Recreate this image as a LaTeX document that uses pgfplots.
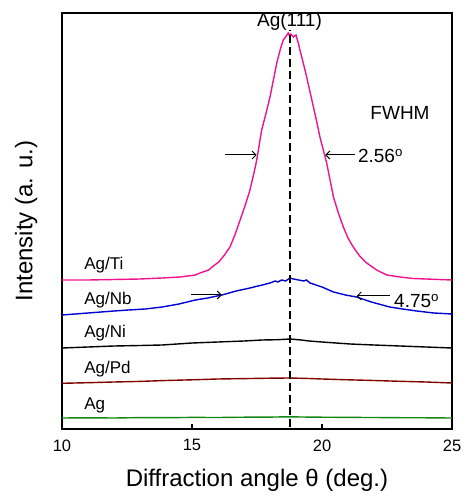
\documentclass[border=0pt]{standalone}
\usepackage{pgfplots}
\pgfplotsset{compat=1.18}
\usepackage{fontspec}
\setmainfont{Liberation Sans}
\usetikzlibrary{arrows.meta}

\definecolor{tipink}{RGB}{240,20,140}
\definecolor{nbblue}{RGB}{0,0,210}
\definecolor{pdred}{RGB}{128,0,0}
\definecolor{aggreen}{RGB}{20,135,20}

\begin{document}
\begin{tikzpicture}
\begin{axis}[
  width=390pt,height=416pt,scale only axis,
  xmin=10,xmax=25,ymin=0,ymax=416,
  xtick={10,15,20,25},ytick=\empty,
  xtick pos=bottom,tick align=inside,
  major tick length=5pt,
  tick style={black,line width=1.3pt},
  axis line style={line width=2pt},
  /pgf/number format/assume math mode=true,
  ticklabel style={font=\fontsize{16.5}{19}\selectfont},
  xticklabel style={yshift=-7pt},
  xlabel={Diffraction angle θ (deg.)},
  ylabel={Intensity (a. u.)},
  label style={font=\fontsize{24}{28}\selectfont},
  xlabel style={at={(axis description cs:0.5,-0.139)},anchor=base},
  ylabel style={at={(axis description cs:-0.054,0.5)},anchor=south},
  every axis plot/.append style={line width=1.4pt},
  clip=false,
]
% Ag
\addplot[aggreen,no marks] coordinates {
(10,11) (11,11.2) (12,11) (13,11.4) (14,11.3) (15,11.6) (16,11.5) (17,11.8)
(18,11.9) (18.7,12.2) (19.5,11.9) (20,11.8) (21,11.6) (22,11.5) (23,11.3)
(24,11.2) (25,11)};
% Ag/Pd
\addplot[pdred,no marks] coordinates {
(10,45.7) (11,46.3) (12,47) (13,47.6) (14,48.5) (15,49.2) (16,50) (17,50.4)
(18,50.8) (18.73,51) (19.5,50.5) (20,50) (21,49.2) (22,48.5) (23,47.7)
(24,47) (25,46)};
% Ag/Ni
\addplot[black,no marks] coordinates {
(10,81) (11,82) (12,83) (13,83.5) (13.85,84) (15,86) (16,87) (17,88)
(17.7,89) (18.3,89.3) (18.77,90) (19.2,89) (19.5,88) (20,87) (21.08,85)
(22,84) (23,83) (24,82) (25,81)};
% Ag/Nb
\addplot[nbblue,no marks] coordinates {
(10,114) (11,116) (12,118) (12.56,119) (13.2,120) (13.85,122) (14.5,125)
(15.13,129) (15.6,131) (16.15,134) (16.7,138) (17.23,141) (17.7,144)
(18,146) (18.2,148) (18.3,147) (18.45,149) (18.6,148) (18.77,151)
(18.9,150) (19.1,149) (19.3,148) (19.4,149) (19.54,146) (20,142)
(20.44,137) (20.9,134) (21.33,132) (21.9,127) (22.6,122) (23.1,120)
(23.64,118) (24.3,116) (25,115)};
% Ag/Ti
\addplot[tipink,no marks] coordinates {
(10,149) (11,149) (12,149.5) (13,150) (13.85,151) (14.54,152) (15.13,154)
(15.31,156) (15.64,159) (15.82,163) (16.03,167) (16.25,174) (16.46,182)
(16.65,194) (16.85,209) (17.05,224) (17.23,239) (17.4,258) (17.49,269)
(17.68,299) (17.85,316) (18,332) (18.13,349) (18.26,366) (18.4,380)
(18.51,389) (18.6,392) (18.7,396) (18.75,393) (18.8,395) (18.9,392)
(19,394) (19.03,391) (19.1,385) (19.15,379) (19.28,366) (19.41,352)
(19.54,337) (19.67,322) (19.8,307) (19.92,292) (20.05,279) (20.18,266)
(20.31,249) (20.44,232) (20.63,216) (20.82,202) (21,191) (21.2,182)
(21.45,173) (21.72,166) (22.1,159) (22.49,154) (23,152) (23.5,150.5)
(24,150) (25,149)};
% Ag(111) position
\addplot[black,line width=2pt,dash pattern=on 8pt off 4pt,no marks]
  coordinates {(18.75,2) (18.75,399)};

\begin{scope}[every node/.style={font=\fontsize{17}{20}\selectfont,inner sep=0pt}]
\node[anchor=west] at (axis cs:10.85,164) {Ag/Ti};
\node[anchor=west] at (axis cs:10.85,129) {Ag/Nb};
\node[anchor=west] at (axis cs:10.85,96) {Ag/Ni};
\node[anchor=west] at (axis cs:10.85,60) {Ag/Pd};
\node[anchor=west] at (axis cs:10.85,24) {Ag};
\end{scope}
\begin{scope}[every node/.style={font=\fontsize{19}{22}\selectfont,inner sep=0pt}]
\node at (axis cs:18.75,407) {Ag(111)};
\node at (axis cs:23.0,316) {FWHM};
\node[anchor=west] at (axis cs:21.38,273) {2.56\textsuperscript{o}};
\node[anchor=west] at (axis cs:22.77,128) {4.75\textsuperscript{o}};
\end{scope}
\begin{scope}[line width=1pt,-{Straight Barb[length=4pt,width=8pt]}]
\draw (axis cs:16.27,274) -- (axis cs:17.49,274);
\draw (axis cs:21.27,274) -- (axis cs:20.12,274);
\draw (axis cs:14.97,134) -- (axis cs:16.15,134);
\draw (axis cs:22.6,133) -- (axis cs:21.33,133);
\end{scope}
\end{axis}
\path (current axis.south west) ++(-62pt,-68pt);
\path (current axis.north east) ++(12pt,13pt);
\end{tikzpicture}
\end{document}
